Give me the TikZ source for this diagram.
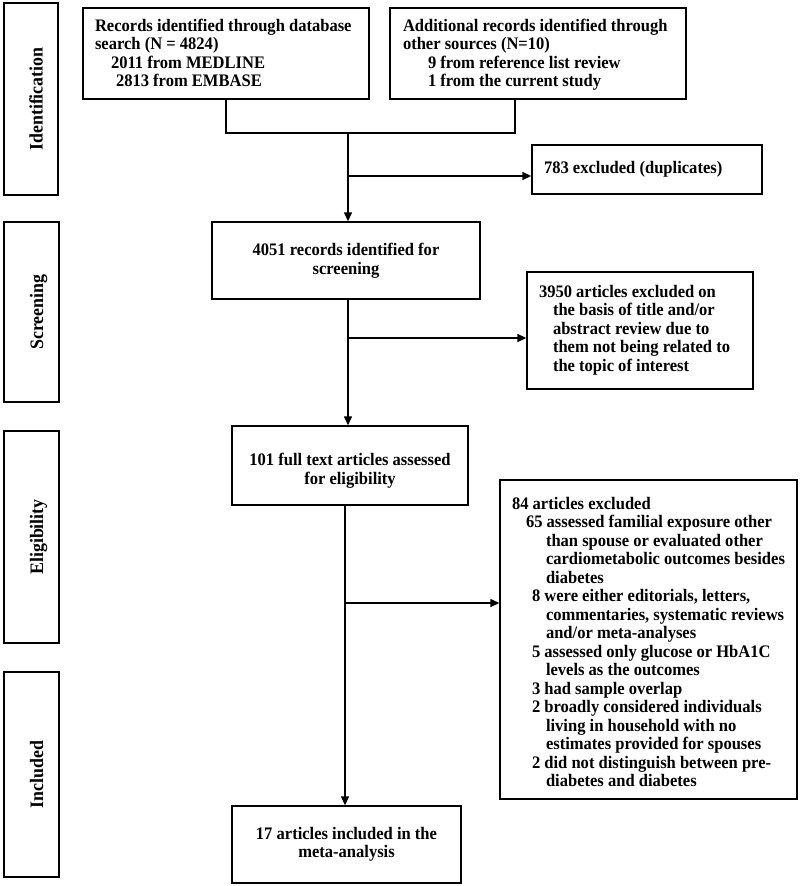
\documentclass[tikz,border=0pt]{standalone}
\usepackage{fontspec}
\setmainfont{Liberation Serif}[FakeStretch=0.94]
\usetikzlibrary{arrows.meta,calc}
\newcommand\lbox[2]{\makebox[#1][l]{\begin{tabular}{@{}l@{}}#2\end{tabular}}}
\newcommand\ind[1]{\hspace*{#1pt}}
\newcommand\dn[2]{\raisebox{-#1pt}[\height][\depth]{#2}}
\begin{document}
\begin{tikzpicture}[x=1pt,y=-1pt,
 every node/.style={font=\fontsize{17.6}{18.5}\selectfont\bfseries},
 box/.style={draw, line width=1.4pt, inner ysep=0pt, inner xsep=0pt},
 side/.style={draw, line width=1.4pt, rotate=90, inner sep=0pt, text height=23pt, text depth=0pt,
   font=\fontsize{19}{20}\selectfont\bfseries},
 conn/.style={line width=1.4pt},
 arr/.style={conn, -{Triangle[length=9pt,width=8pt]}}]
\useasboundingbox (0,0) rectangle (800,886);
\fill[white] (0,0) rectangle (800,886);

% stage labels
\node[side, minimum width=192pt, minimum height=54pt] (sid) at (31,99) {Identification};
\node[side, minimum width=180pt, minimum height=55pt] (sscr) at (31.5,312) {Screening};
\node[side, minimum width=212pt, minimum height=55pt] (selig) at (31.5,537) {Eligibility};
\node[side, minimum width=205pt, minimum height=55pt] (sinc) at (31.5,774.5) {Included};

% boxes
\node[box, inner xsep=12pt, minimum height=91pt] (rec) at (226,53.5)
 {\dn{2}{\lbox{262pt}{Records identified through database\\search (N = 4824)\\\ind{16}2011 from MEDLINE\\\ind{21}2813 from EMBASE}}};
\node[box, inner xsep=13pt, minimum height=91pt] (add) at (538,53.5)
 {\dn{2}{\lbox{270pt}{Additional records identified through\\other sources (N=10)\\\ind{25}9 from reference list review\\\ind{25}1 from the current study}}};
\node[box, inner xsep=12pt, minimum height=49pt] (dup) at (647,169.5)
 {\lbox{206pt}{783 excluded (duplicates)}};
\node[box, align=center, minimum width=268pt, minimum height=77pt] (scr) at (346,260.5)
 {4051 records identified for\\screening};
\node[box, inner xsep=12pt, minimum height=117pt] (ex1) at (640,330.5)
 {\lbox{202pt}{3950 articles excluded on\\\ind{14}the basis of title and/or\\\ind{14}abstract review due to\\\ind{14}them not being related to\\\ind{14}the topic of interest}};
\node[box, minimum width=236pt, minimum height=79pt] (full) at (350,465.5)
 {\dn{6}{\begin{tabular}{@{}c@{}}101 full text articles assessed\\for eligibility\end{tabular}}};
\node[box, inner xsep=12pt, minimum height=319pt] (ex2) at (648.5,639.5)
 {\dn{5}{\lbox{273pt}{84 articles excluded\\
 \ind{14}65 assessed familial exposure other\\
 \ind{34}than spouse or evaluated other\\
 \ind{34}cardiometabolic outcomes besides\\
 \ind{34}diabetes\\
 \ind{20}8 were either editorials, letters,\\
 \ind{34}commentaries, systematic reviews\\
 \ind{34}and/or meta-analyses\\
 \ind{20}5 assessed only glucose or HbA1C\\
 \ind{34}levels as the outcomes\\
 \ind{20}3 had sample overlap\\
 \ind{20}2 broadly considered individuals\\
 \ind{34}living in household with no\\
 \ind{34}estimates provided for spouses\\
 \ind{20}2 did not distinguish between pre-\\
 \ind{34}diabetes and diabetes}}};
\node[box, align=center, minimum width=229pt, minimum height=77pt] (inc) at (346.5,844.5)
 {17 articles included in the\\meta-analysis};

% connectors
\coordinate (j1) at (348,133);
\coordinate (b1) at (348,176);
\coordinate (b2) at (348,338);
\coordinate (b3) at (345,603);
\draw[conn] (rec.south) |- (j1) -| ([xshift=-23pt]add.south);
\draw[arr] (j1) -- (j1 |- scr.north);
\draw[arr] (b1) -- (b1 -| dup.west);
\draw[arr] (scr.south -| b2) -- (b2 |- full.north);
\draw[arr] (b2) -- (b2 -| ex1.west);
\draw[arr] (full.south -| b3) -- (b3 |- inc.north);
\draw[arr] (b3) -- (b3 -| ex2.west);
\end{tikzpicture}
\end{document}
